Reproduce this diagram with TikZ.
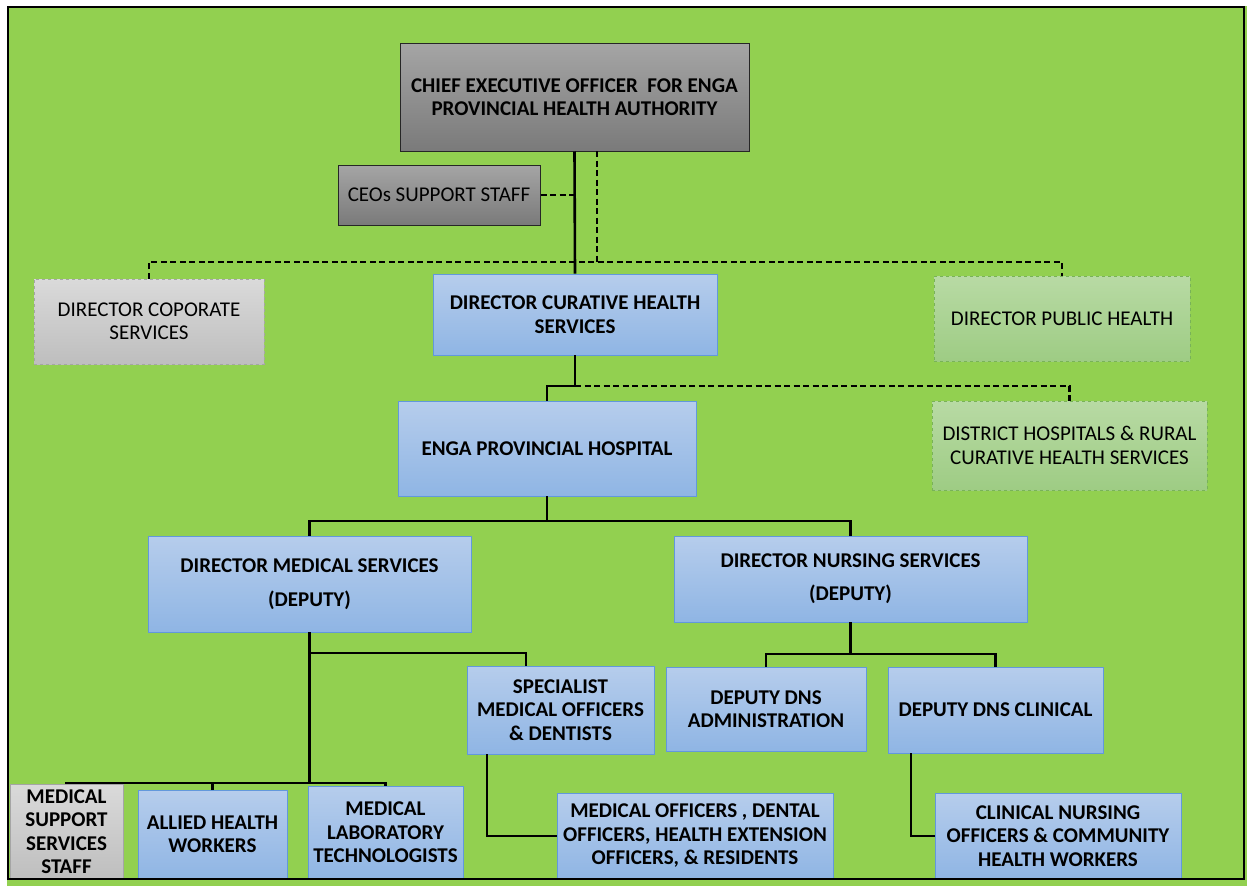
\documentclass[tikz,border=0pt]{standalone}
\usepackage{fontspec}
\setmainfont{Carlito}
\definecolor{bg}{RGB}{146,208,80}
\definecolor{bluetop}{RGB}{182,205,236}
\definecolor{bluebot}{RGB}{143,181,228}
\definecolor{blueline}{RGB}{98,152,220}
\definecolor{graytop}{RGB}{165,165,165}
\definecolor{graybot}{RGB}{122,122,122}
\definecolor{lgtop}{RGB}{218,218,218}
\definecolor{lgbot}{RGB}{190,190,190}
\definecolor{lgline}{RGB}{165,165,165}
\definecolor{grtop}{RGB}{184,218,164}
\definecolor{grbot}{RGB}{158,204,132}
\definecolor{grline}{RGB}{120,178,88}
\tikzset{
  box/.style={rectangle, align=center, inner sep=1pt, font=\fontsize{21}{23.5}\selectfont},
  bluebox/.style={box, draw=blueline, line width=0.9pt, top color=bluetop, bottom color=bluebot, font=\fontsize{21}{23.5}\selectfont\bfseries},
  graybox/.style={box, draw=black!85, line width=1pt, top color=graytop, bottom color=graybot},
  lgbox/.style={box, draw=lgline, dashed, line width=0.9pt, top color=lgtop, bottom color=lgbot},
  grbox/.style={box, draw=grline, dashed, line width=0.9pt, top color=grtop, bottom color=grbot},
  conn/.style={draw=black, line width=2.6pt},
  dconn/.style={draw=black, line width=2.3pt, dash pattern=on 6pt off 3.5pt},
}
\begin{document}
\begin{tikzpicture}[x=1pt,y=-1pt]
\useasboundingbox (0,0) rectangle (1247,886);
\fill[white] (0,0) rectangle (1247,886);
\fill[bg] (7,6) rectangle (1247,886);

% nodes
\node[graybox, minimum width=349pt, minimum height=108pt, font=\fontsize{21}{23.5}\selectfont\bfseries] (ceo) at (574.5,97) {CHIEF EXECUTIVE OFFICER\ \ FOR ENGA\\PROVINCIAL HEALTH AUTHORITY};
\node[graybox, minimum width=202pt, minimum height=60pt] (sup) at (439,195) {CEOs SUPPORT STAFF};
\node[lgbox, minimum width=230pt, minimum height=85pt] (corp) at (149,321.5) {DIRECTOR COPORATE\\SERVICES};
\node[bluebox, minimum width=284pt, minimum height=81pt] (cur) at (575,314.5) {DIRECTOR CURATIVE HEALTH\\SERVICES};
\node[grbox, minimum width=256pt, minimum height=85pt] (pub) at (1062,318.5) {DIRECTOR PUBLIC HEALTH};
\node[bluebox, minimum width=298pt, minimum height=95pt] (hosp) at (547,448.5) {ENGA PROVINCIAL HOSPITAL};
\node[grbox, minimum width=275pt, minimum height=89pt] (dist) at (1069.5,445.5) {DISTRICT HOSPITALS \& RURAL\\CURATIVE HEALTH SERVICES};
\node[bluebox, minimum width=323pt, minimum height=96pt] (dms) at (309.5,584) {DIRECTOR MEDICAL SERVICES\\[10.5pt](DEPUTY)};
\node[bluebox, minimum width=353pt, minimum height=86pt] (dns) at (850.5,579) {DIRECTOR NURSING SERVICES\\[9.5pt](DEPUTY)};
\node[bluebox, minimum width=187pt, minimum height=88pt] (spec) at (560.5,710) {SPECIALIST\\MEDICAL OFFICERS\\\& DENTISTS};
\node[bluebox, minimum width=200pt, minimum height=84pt] (adm) at (766,709) {DEPUTY DNS\\ADMINISTRATION};
\node[bluebox, minimum width=215pt, minimum height=86pt] (cli) at (995.5,710) {DEPUTY DNS CLINICAL};
\node[box, draw=lgline, line width=0.9pt, top color=lgtop, bottom color=lgbot, font=\fontsize{21}{23.5}\selectfont\bfseries, minimum width=113pt, minimum height=95pt] (msup) at (66.5,831.5) {MEDICAL\\SUPPORT\\SERVICES\\STAFF};
\node[bluebox, minimum width=149pt, minimum height=89pt] (allied) at (212.5,834.5) {ALLIED HEALTH\\WORKERS};
\node[bluebox, minimum width=155pt, minimum height=93pt] (lab) at (385.5,832.5) {MEDICAL\\LABORATORY\\TECHNOLOGISTS};
\node[bluebox, minimum width=276pt, minimum height=86pt] (mo) at (695,836) {MEDICAL OFFICERS , DENTAL\\OFFICERS, HEALTH EXTENSION\\OFFICERS, \& RESIDENTS};
\node[bluebox, minimum width=246pt, minimum height=86pt] (cn) at (1058,836) {CLINICAL NURSING\\OFFICERS \& COMMUNITY\\HEALTH WORKERS};

% helper coordinates
\coordinate (ceod) at (597,151);
\coordinate (dash1) at (597,262);
\coordinate (corpj) at (149,262);
\coordinate (pubj) at (1062,262);
\coordinate (curj) at (575,386);
\coordinate (distj) at (1069.5,386);
\coordinate (hospj) at (547,521);
\coordinate (dmsj) at (309.5,653);
\coordinate (dmsb) at (309.5,783);
\coordinate (specj) at (526,653);
\coordinate (specb) at (487,754);
\coordinate (dnsj) at (850.5,654);
\coordinate (clib) at (911,753);

% connectors
\draw[conn] (ceo.south) -- (cur.north);
\draw[dconn] (sup.east) -- (sup.east -| ceo.south);
\draw[dconn] (ceod) -- (dash1);
\draw[dconn] (corp.north) -- (corpj) -- (pubj) -- (pub.north);
\draw[conn] (cur.south) -- (curj) -| (hosp.north);
\draw[dconn] (curj) -- (distj) -- (dist.north);
\draw[conn] (hosp.south) -- (hospj);
\draw[conn] (dms.north) |- (hospj) -| (dns.north);
\draw[conn, line width=3.2pt] (dms.south) -- (dmsb);
\draw[conn] (dmsj) -- (specj) -- (spec.north -| specj);
\draw[conn] (msup.north) |- (dmsb) -| (lab.north);
\draw[conn] (allied.north) -- (allied.north |- dmsb);
\draw[conn] (specb) |- (mo.west);
\draw[conn] (dns.south) -- (dnsj);
\draw[conn] (adm.north) |- (dnsj) -| (cli.north);
\draw[conn] (clib) |- (cn.west);

% frame
\draw[black, line width=2.6pt] (8,7) rectangle (1244,879);
\end{tikzpicture}
\end{document}
